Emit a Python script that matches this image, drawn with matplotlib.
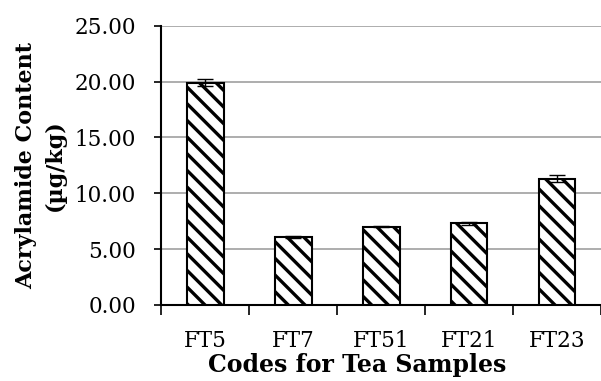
import matplotlib
matplotlib.use("Agg")
import matplotlib.pyplot as plt
import numpy as np

samples = ["FT5", "FT7", "FT51", "FT21", "FT23"]
acrylamide = [19.9, 6.1, 7.0, 7.3, 11.3]
errors = [0.3, 0.1, 0.05, 0.15, 0.3]

plt.rcParams['font.family'] = ['DejaVu Serif']
plt.rcParams['hatch.linewidth'] = 2.4

fig = plt.figure(figsize=(6.01, 3.81), dpi=100)
ax = fig.add_axes([0.268, 0.1995, 0.732, 0.733])

x = np.arange(len(samples))
ax.bar(x, acrylamide, width=0.42, color='white', edgecolor='black',
       linewidth=1.5, hatch='\\\\', zorder=3)
ax.errorbar(x, acrylamide, yerr=errors, fmt='none', ecolor='black',
            elinewidth=1, capsize=6, capthick=1, zorder=4)

ax.set_xlim(-0.5, len(samples) - 0.5)
ax.set_ylim(0, 25)
ax.set_yticks(np.arange(0, 26, 5))
ax.set_yticklabels([f"{v:.2f}" for v in np.arange(0, 26, 5)])
ax.set_xticks(x)
ax.set_xticklabels(samples)
ax.set_xticks(np.arange(-0.5, len(samples), 1), minor=True)
ax.tick_params(axis='x', which='major', length=0, pad=18, labelsize=15.5)
ax.tick_params(axis='x', which='minor', length=7, width=1.2)
ax.tick_params(axis='y', length=5, width=1.2, labelsize=15.5, pad=13)

ax.grid(axis='y', color='#a0a0a0', linewidth=1.2, zorder=0)
ax.set_axisbelow(True)
for s in ['top', 'right']:
    ax.spines[s].set_visible(False)
ax.spines['left'].set_linewidth(1.5)
ax.spines['bottom'].set_linewidth(1.5)

ax.set_xlabel("Codes for Tea Samples", fontsize=17, fontweight='bold',
              labelpad=1, x=0.445)
ax.set_ylabel("Acrylamide Content\n(µg/kg)", fontsize=16, fontweight='bold',
              labelpad=6, linespacing=1.4)

fig.savefig("out.png", dpi=100)
